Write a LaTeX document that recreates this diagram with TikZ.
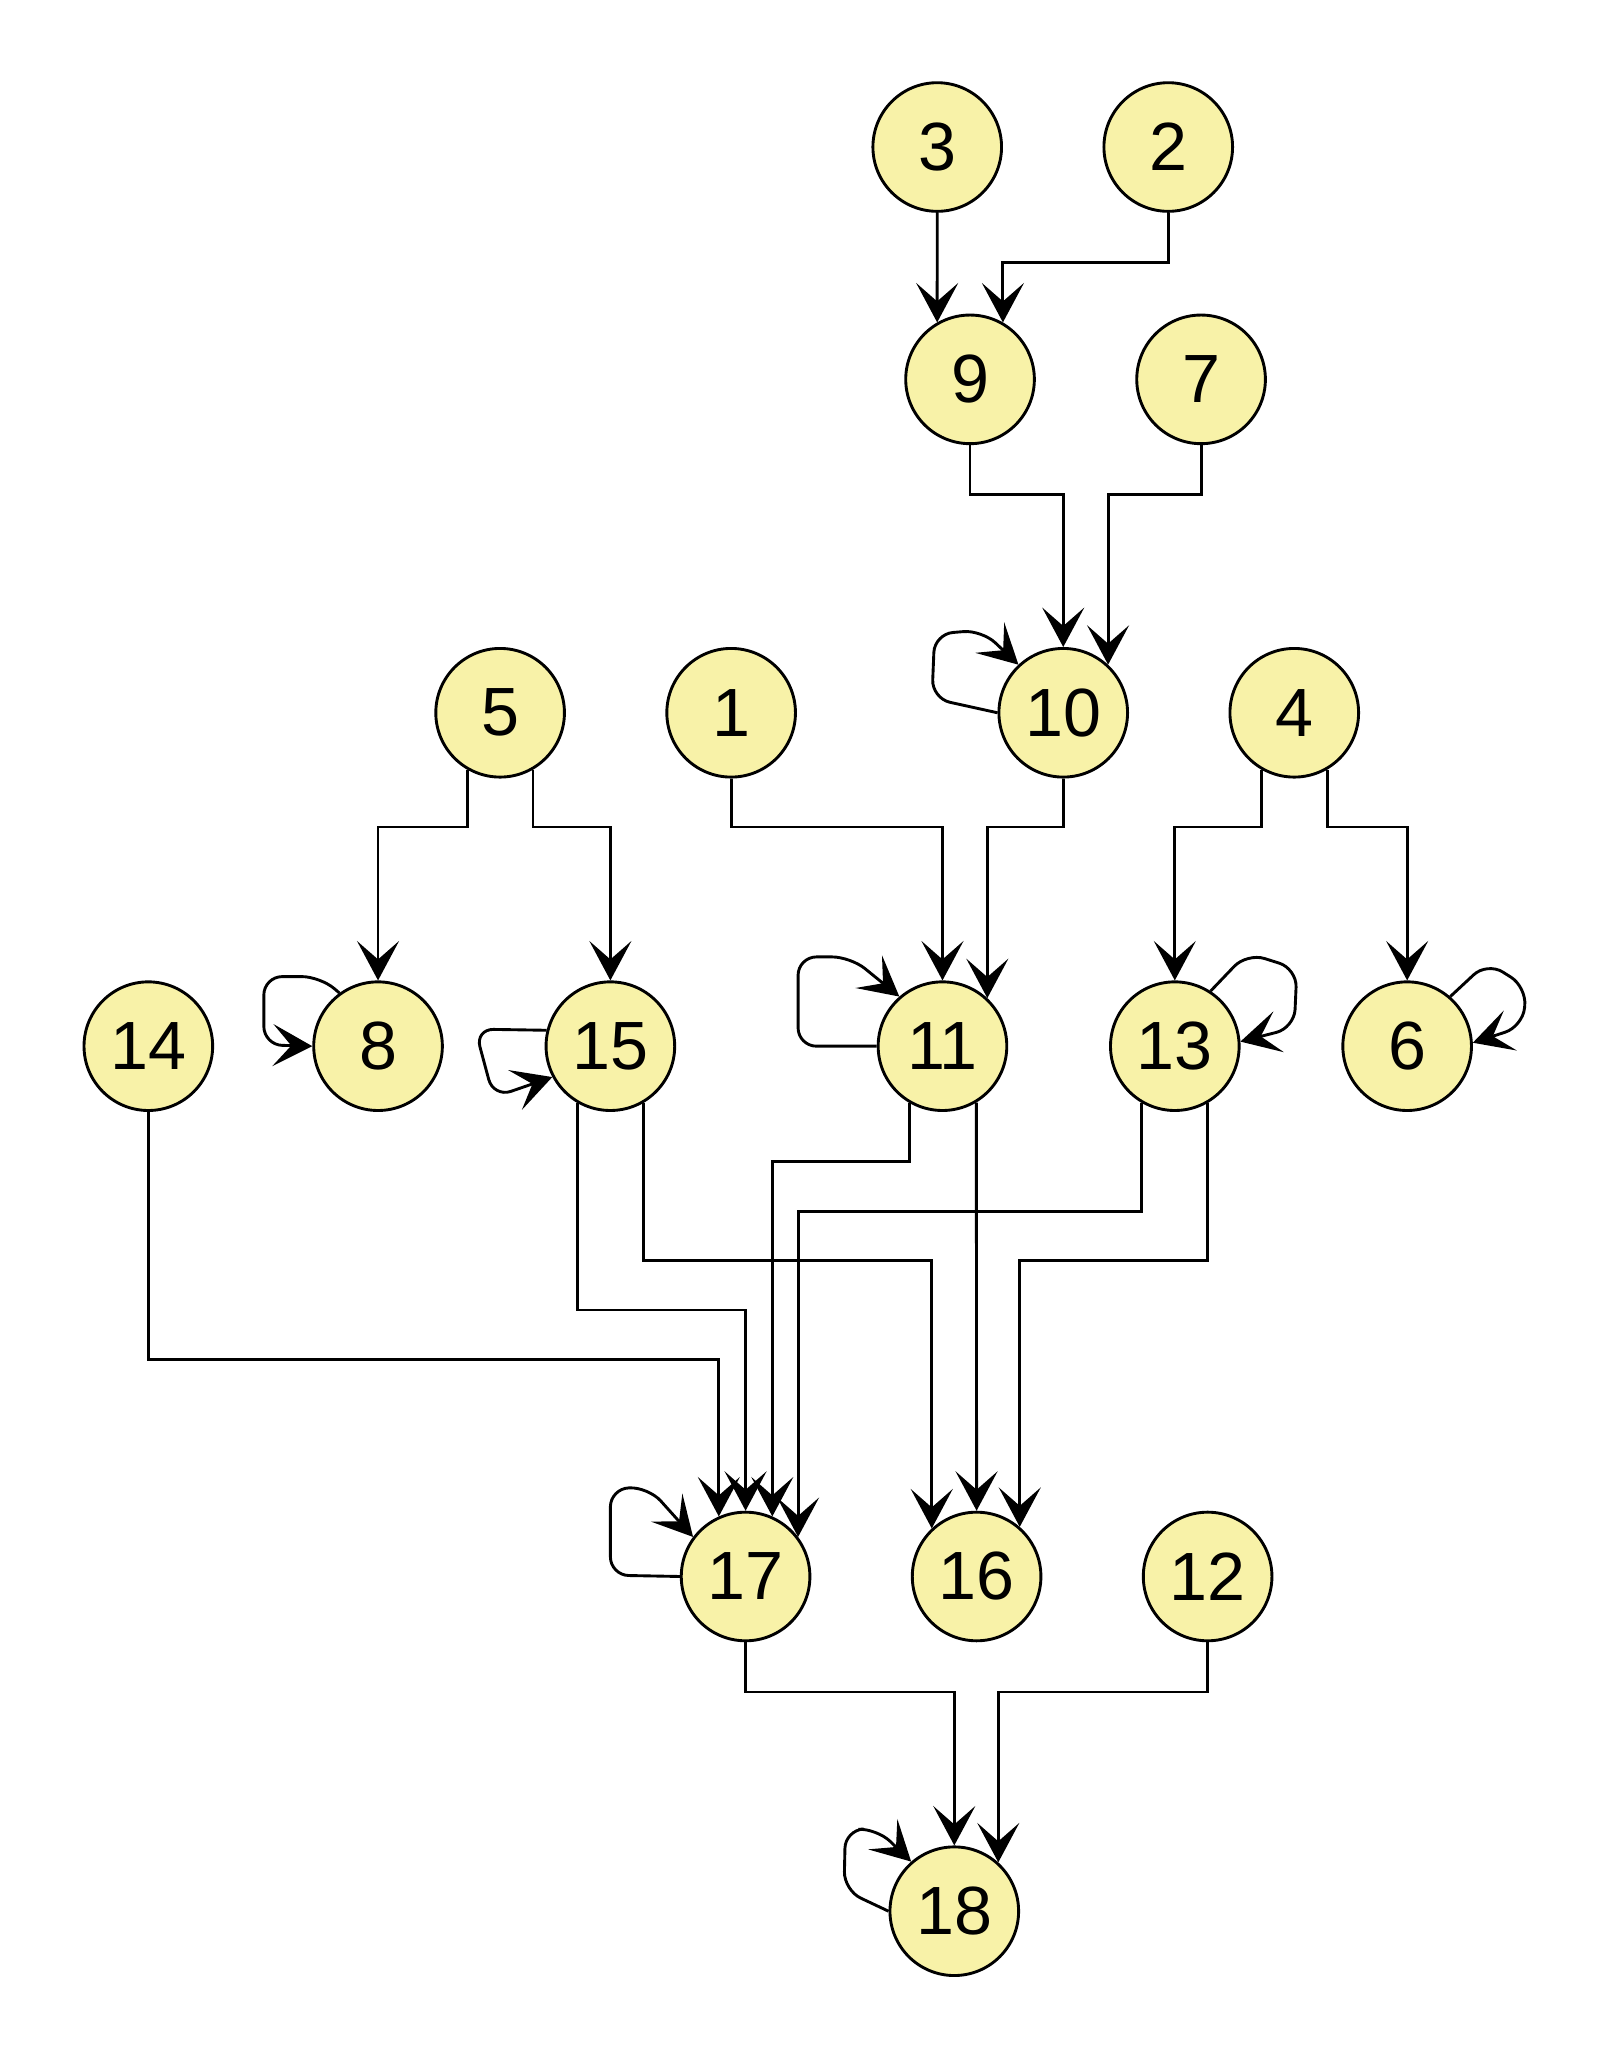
\documentclass[tikz,border=0pt]{standalone}
\usepackage{fontspec}
\setmainfont{Liberation Sans}
\usetikzlibrary{arrows.meta}
\definecolor{nodefill}{RGB}{248,242,168}

\begin{document}
\begin{tikzpicture}[x=0.5pt,y=-0.5pt,
  vertex/.style={circle,draw,line width=1.1pt,fill=nodefill,minimum size=49pt,inner sep=0pt,font=\fontsize{26}{30}\selectfont},
  edge/.style={line width=1.1pt,-{Stealth[length=15pt,width=16pt,inset=7pt]}},
  selfloop/.style={edge,rounded corners=7pt}]
\useasboundingbox (0,0) rectangle (1225,1568.6);
\foreach \n/\x/\y in {3/714/112, 2/890/112, 9/739/289, 7/915/289,
  5/381/543, 1/557/543, 10/810/543, 4/986/543,
  14/113/797, 8/288/797, 15/465/797, 11/718/797, 13/895/797, 6/1072/797,
  17/568/1201, 16/744/1201, 12/920/1201, 18/727/1456}
  {\node[vertex] (n\n) at (\x,\y) {\n};}
% levels of the horizontal runs
\foreach \h in {200,377,630,885,923,960,998,1036,1289} {\coordinate (h\h) at (0,\h);}

\draw[edge] (n3.south) -- (n9.120);
\draw[edge] (n2.south) |- (n9.60 |- h200) -- (n9.60);
\draw[edge] (n9.south) |- (n10.north |- h377) -- (n10.north);
\draw[edge] (n7.south) |- (n10.47 |- h377) -- (n10.47);
\draw[edge] (n5.-120) |- (n8.north |- h630) -- (n8.north);
\draw[edge] (n5.-60) |- (n15.north |- h630) -- (n15.north);
\draw[edge] (n1.south) |- (n11.north |- h630) -- (n11.north);
\draw[edge] (n10.south) |- (n11.47 |- h630) -- (n11.47);
\draw[edge] (n4.-120) |- (n13.north |- h630) -- (n13.north);
\draw[edge] (n4.-60) |- (n6.north |- h630) -- (n6.north);
\draw[edge] (n14.south) |- (n17.114 |- h1036) -- (n17.114);
\draw[edge] (n15.-120) |- (n17.north |- h998) -- (n17.north);
\draw[edge] (n15.-60) |- (n16.133 |- h960) -- (n16.133);
\draw[edge] (n11.-120) |- (n17.66 |- h885) -- (n17.66);
\draw[edge] (n11.-59) -- (n16.north);
\draw[edge] (n13.-120) |- (n17.37 |- h923) -- (n17.37);
\draw[edge] (n13.-60) |- (n16.49 |- h960) -- (n16.49);
\draw[edge] (n17.south) |- (n18.north |- h1289) -- (n18.north);
\draw[edge] (n12.south) |- (n18.48 |- h1289) -- (n18.48);

% self loops
\draw[selfloop] (n10.west) -- (710,532) -- (712,483) -- (748,480) -- (n10.133);
\draw[selfloop] (n8.126) -- (244,744) -- (201,744) -- (201,796) -- (n8.west);
\draw[selfloop] (n15.166) -- (362,784) -- (376,836) -- (n15.208);
\draw[selfloop] (n11.west) -- (608,797) -- (608,729) -- (648,729) -- (n11.131);
\draw[selfloop] (n13.57) -- (950,726) -- (988,738) -- (986,783) -- (n13.4);
\draw[selfloop] (n6.49) -- (1133,733) -- (1163,752) -- (1160,782) -- (n6.3);
\draw[selfloop] (n17.west) -- (465,1200) -- (465,1134) -- (494,1133) -- (n17.143);
\draw[selfloop] (n18.180) -- (643,1440) -- (644,1394) -- (668,1393) -- (n18.131);
\end{tikzpicture}
\end{document}
